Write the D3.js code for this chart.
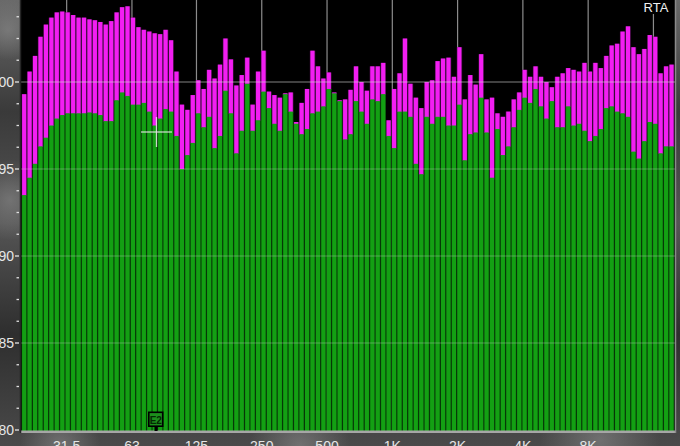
<!DOCTYPE html>
<html><head><meta charset="utf-8">
<script src="https://cdn.jsdelivr.net/npm/d3@7"></script>
<style>html,body{margin:0;padding:0;background:#3a3a3a;overflow:hidden}svg{display:block}</style>
</head><body><svg id="c" width="680" height="446"></svg>
<script>
// 1/12-octave RTA bands (band centre frequencies, Hz)
const bandsPerOctave = 12;
const lowestBandEdge = 19.5;
const bandCenters = d3.range(120).map(i => lowestBandEdge * Math.pow(2, (i + 0.5) / bandsPerOctave));

// average level (green), dB
const averageDb = [
 93.5,94.5,95.3,96.3,96.8,97.5,97.9,98.1,98.2,98.2,98.2,98.2,
 98.25,98.2,98.1,97.75,97.75,98.95,99.4,99.2,98.7,98.7,98.8,98.3,
 97.5,97.9,98.45,98.3,96.9,95.0,95.8,96.5,98.2,97.4,98.0,96.2,
 96.9,99.5,98.2,95.9,97.2,99.9,97.2,97.8,99.45,98.5,97.6,97.2,
 99.3,98.3,97.6,97.0,97.3,98.2,98.3,98.6,99.6,99.35,98.9,96.7,
 97.0,98.9,98.3,97.6,99.0,98.9,99.3,96.9,96.2,98.3,98.3,98.0,
 95.3,94.7,98.0,97.6,98.0,98.0,97.5,97.5,98.7,95.5,97.0,97.1,
 99.1,97.1,94.5,97.3,95.8,96.3,97.4,98.4,99.1,98.8,99.6,98.6,
 97.9,98.9,97.4,97.4,98.6,97.5,97.6,97.2,96.6,96.9,97.3,98.5,
 98.6,98.3,98.2,98.0,96.0,95.6,96.6,97.7,97.6,95.9,96.3,96.3
];
// peak level (magenta), dB
const peakDb = [
 99.3,100.6,101.5,102.6,103.3,103.7,104.0,104.05,104.0,103.85,103.7,103.7,
 103.6,103.55,103.45,103.3,103.5,104.0,104.3,104.35,103.7,103.15,103.0,102.9,
 102.8,102.75,103.0,102.4,100.6,98.7,98.4,99.25,100.1,99.6,100.7,100.2,
 101.0,102.5,101.3,99.8,100.4,101.4,98.7,100.6,101.8,99.45,99.25,99.1,
 99.35,99.4,97.7,98.8,99.6,101.8,100.9,100.2,100.55,99.4,98.95,99.0,
 99.55,100.9,100.0,99.5,100.9,100.9,101.1,97.8,99.6,100.5,102.5,99.9,
 99.1,98.5,100.0,100.1,101.2,101.35,101.4,100.3,102.0,99.0,100.4,99.85,
 101.6,99.0,99.1,98.2,98.0,98.3,99.0,99.4,100.7,100.3,100.9,100.3,
 100.0,99.7,100.3,100.5,100.8,100.7,100.6,101.1,100.6,101.1,100.8,101.5,
 102.1,102.2,102.9,103.2,102.0,101.6,101.9,102.7,102.6,100.5,100.9,101.0
];

const yTickValues = [80, 85, 90, 95, 100];
const yTickLabels = ["80", "85", "90", "95", "100"];
const xTickFreqs = [31.5, 63, 125, 250, 500, 1000, 2000, 4000, 8000, 16000];
const xTickLabels = ["31.5", "63", "125", "250", "500", "1K", "2K", "4K", "8K", ""];

const svg = d3.select("#c");
const W = 680, H = 446;
const plot = {left: 20.5, right: 675, top: 0, bottom: 431};

const x = d3.scaleLog().domain([lowestBandEdge, lowestBandEdge * Math.pow(2, 10)]).range([21.5, 674.3]);
const y = d3.scaleLinear().domain([80, 100]).range([430, 82]);
const halfBand = Math.pow(2, 1 / (2 * bandsPerOctave));

// marbled grey backdrop
const defs = svg.append("defs");
const g1 = defs.append("linearGradient").attr("id", "bg").attr("x1", 0).attr("y1", 0).attr("x2", 0).attr("y2", 1);
g1.append("stop").attr("offset", 0).attr("stop-color", "#6a6a6a");
g1.append("stop").attr("offset", 0.25).attr("stop-color", "#3a3a3a");
g1.append("stop").attr("offset", 0.5).attr("stop-color", "#555");
g1.append("stop").attr("offset", 0.75).attr("stop-color", "#2e2e2e");
g1.append("stop").attr("offset", 1).attr("stop-color", "#4a4a4a");
svg.append("rect").attr("width", W).attr("height", H).attr("fill", "url(#bg)");
const rg = defs.append("radialGradient").attr("id", "blob");
rg.append("stop").attr("offset", 0).attr("stop-color", "#8a8a8a").attr("stop-opacity", 0.6);
rg.append("stop").attr("offset", 1).attr("stop-color", "#8a8a8a").attr("stop-opacity", 0);
[[8, 30, 30], [10, 200, 40], [60, 445, 40], [300, 446, 50], [600, 440, 60]].forEach(([cx, cy, r]) =>
  svg.append("circle").attr("cx", cx).attr("cy", cy).attr("r", r).attr("fill", "url(#blob)"));

svg.append("rect").attr("x", plot.left).attr("y", plot.top)
  .attr("width", plot.right - plot.left).attr("height", plot.bottom - plot.top).attr("fill", "#000");

// vertical grid (behind bars)
svg.append("g").selectAll("line").data(xTickFreqs).join("line")
  .attr("x1", d => x(d)).attr("x2", d => x(d)).attr("y1", 0).attr("y2", plot.bottom)
  .attr("stroke", "#8c8c8c").attr("stroke-width", 1.2);

const data = bandCenters.map((f, i) => ({f, avg: averageDb[i], peak: peakDb[i]}));
const bx0 = d => x(d.f / halfBand), bx1 = d => x(d.f * halfBand);

// dark "gap" layers
const bars = svg.append("g");
bars.selectAll(".pk0").data(data).join("rect")
  .attr("x", d => bx0(d)).attr("width", d => bx1(d) - bx0(d))
  .attr("y", d => y(d.peak)).attr("height", d => y(d.avg) - y(d.peak) + 1)
  .attr("fill", "#4a0f4a");
bars.selectAll(".av0").data(data).join("rect")
  .attr("x", d => bx0(d)).attr("width", d => bx1(d) - bx0(d))
  .attr("y", d => y(d.avg)).attr("height", d => y(80) - y(d.avg) + 1)
  .attr("fill", "#0a4a0a");
// bright bars
bars.selectAll(".pk").data(data).join("rect")
  .attr("x", d => bx0(d) + 0.6).attr("width", d => bx1(d) - bx0(d) - 1.3)
  .attr("y", d => y(d.peak)).attr("height", d => y(d.avg) - y(d.peak) + 0.5)
  .attr("fill", "#f21ef2");
bars.selectAll(".av").data(data).join("rect")
  .attr("x", d => bx0(d) + 0.6).attr("width", d => bx1(d) - bx0(d) - 1.3)
  .attr("y", d => y(d.avg)).attr("height", d => y(80) - y(d.avg) + 1)
  .attr("fill", "#13a013");

// horizontal grid on top, translucent
svg.append("g").selectAll("line").data(yTickValues.slice(1)).join("line")
  .attr("x1", plot.left).attr("x2", plot.right).attr("y1", d => y(d)).attr("y2", d => y(d))
  .attr("stroke", "#d8d8d8").attr("stroke-width", 1.2).attr("stroke-opacity", d => d === 100 ? 0.6 : 0.35);

// frame
svg.append("line").attr("x1", plot.left).attr("x2", plot.right + 1).attr("y1", 431.8).attr("y2", 431.8)
  .attr("stroke", "#a6a6a6").attr("stroke-width", 2.6);
svg.append("line").attr("x1", plot.right + 0.5).attr("x2", plot.right + 0.5).attr("y1", 0).attr("y2", 433)
  .attr("stroke", "#8a8a8a").attr("stroke-width", 1.5);
svg.append("line").attr("x1", plot.left).attr("x2", plot.left).attr("y1", 0).attr("y2", 433)
  .attr("stroke", "#262626").attr("stroke-width", 1.5);

// y axis labels + ticks
const font = "'Liberation Sans', Arial, sans-serif";
const yAx = svg.append("g");
yAx.selectAll("text").data(yTickValues).join("text")
  .attr("x", 14).attr("y", d => y(d) + 5).attr("text-anchor", "end")
  .attr("font-family", font).attr("font-size", 14).attr("fill", "#e6e6e6")
  .text((d, i) => yTickLabels[i]);
yAx.selectAll("line.maj").data(yTickValues).join("line")
  .attr("x1", 15).attr("x2", 19).attr("y1", d => y(d)).attr("y2", d => y(d))
  .attr("stroke", "#e6e6e6").attr("stroke-width", 1.3);
const minor = d3.range(80, 104.9, 1.25).filter(v => v % 5 !== 0);
yAx.selectAll("line.min").data(minor).join("line")
  .attr("x1", 16.5).attr("x2", 19).attr("y1", d => y(d)).attr("y2", d => y(d))
  .attr("stroke", "#e0e0e0").attr("stroke-width", 1.3);

// x labels
svg.append("g").selectAll("text").data(xTickFreqs).join("text")
  .attr("x", d => x(d)).attr("y", 451).attr("text-anchor", "middle")
  .attr("font-family", font).attr("font-size", 14).attr("fill", "#e6e6e6")
  .text((d, i) => xTickLabels[i]);

// RTA label
svg.append("rect").attr("x", 641).attr("y", 0).attr("width", 31).attr("height", 14).attr("fill", "#000");
svg.append("text").attr("x", 656).attr("y", 12).attr("text-anchor", "middle")
  .attr("font-family", font).attr("font-size", 13).attr("fill", "#f0f0f0").text("RTA");

// cursor crosshair
svg.append("line").attr("x1", 141).attr("x2", 172).attr("y1", 132).attr("y2", 132)
  .attr("stroke", "#e8e8e8").attr("stroke-width", 1.3).attr("stroke-opacity", 0.85);
svg.append("line").attr("x1", 156.5).attr("x2", 156.5).attr("y1", 117).attr("y2", 147)
  .attr("stroke", "#e8e8e8").attr("stroke-width", 1.3).attr("stroke-opacity", 0.85);

// E2 marker
const mk = svg.append("g");
mk.append("rect").attr("x", 148).attr("y", 411.5).attr("width", 15.5).attr("height", 15.5).attr("fill", "#000");
mk.append("rect").attr("x", 149.6).attr("y", 413.1).attr("width", 12.3).attr("height", 12.3).attr("fill", "#1c8f1c");
mk.append("rect").attr("x", 154.5).attr("y", 426).attr("width", 3).attr("height", 5).attr("fill", "#000");
mk.append("text").attr("x", 155.8).attr("y", 423.5).attr("text-anchor", "middle")
  .attr("font-family", font).attr("font-size", 10).attr("font-weight", "bold").attr("fill", "#032a03").text("E2");
</script>
</body></html>
